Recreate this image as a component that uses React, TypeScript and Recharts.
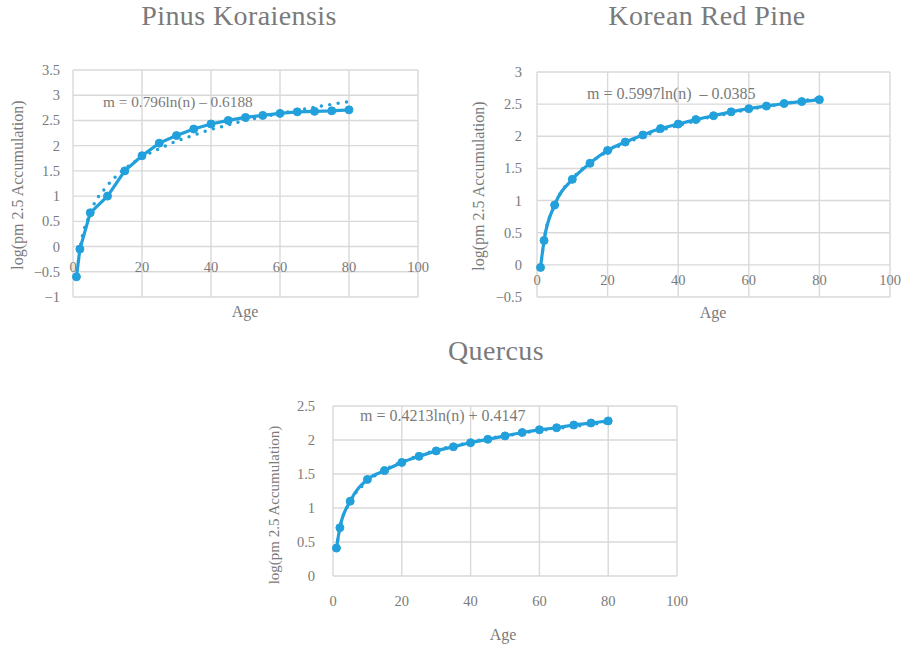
import React from 'react';
import { LineChart, Line, XAxis, YAxis, CartesianGrid } from 'recharts';

const ages = [1, 2, 5, 10, 15, 20, 25, 30, 35, 40, 45, 50, 55, 60, 65, 70, 75, 80];
const xTicks = [0, 20, 40, 60, 80, 100];

const pinusValues = [-0.6, -0.05, 0.67, 1.0, 1.5, 1.8, 2.05, 2.2, 2.33, 2.43, 2.5, 2.56, 2.6, 2.64, 2.67, 2.68, 2.69, 2.71];
const pinusTrend = [-0.62, -0.07, 0.66, 1.21, 1.54, 1.77, 1.94, 2.09, 2.21, 2.32, 2.41, 2.5, 2.57, 2.64, 2.7, 2.76, 2.82, 2.87];
const pinusTicks = [-1, -0.5, 0, 0.5, 1, 1.5, 2, 2.5, 3, 3.5];

const redPineValues = [-0.04, 0.38, 0.93, 1.33, 1.58, 1.78, 1.91, 2.02, 2.12, 2.19, 2.26, 2.32, 2.38, 2.43, 2.47, 2.51, 2.54, 2.57];
const redPineTrend = [-0.04, 0.38, 0.93, 1.34, 1.59, 1.76, 1.89, 2.0, 2.09, 2.17, 2.24, 2.31, 2.36, 2.42, 2.46, 2.51, 2.55, 2.59];
const redPineTicks = [-0.5, 0, 0.5, 1, 1.5, 2, 2.5, 3];

const quercusValues = [0.41, 0.71, 1.1, 1.42, 1.55, 1.67, 1.76, 1.84, 1.9, 1.96, 2.01, 2.06, 2.11, 2.15, 2.18, 2.22, 2.25, 2.28];
const quercusTrend = [0.41, 0.71, 1.09, 1.39, 1.56, 1.68, 1.77, 1.85, 1.91, 1.97, 2.02, 2.06, 2.1, 2.14, 2.17, 2.2, 2.23, 2.26];
const quercusTicks = [0, 0.5, 1, 1.5, 2, 2.5];

const titles = ['Pinus Koraiensis', 'Korean Red Pine', 'Quercus'];
const equations = ['m = 0.796ln(n) \u2013 0.6188', 'm = 0.5997ln(n)  \u2013 0.0385', 'm = 0.4213ln(n) + 0.4147'];
const yAxisTitle = 'log(pm 2.5 Accumulation)';
const xAxisTitle = 'Age';

const FONT = "'Liberation Serif', 'Times New Roman', serif";
const GRAY = '#7a7a7a';
const BLUE = '#22a0db';
const GRID = '#d9d9d9';

const fmt = (v: number) => (v < 0 ? '\u2212' + String(Math.abs(v)) : String(v));

type Cfg = {
  title: string;
  equation: string;
  values: number[];
  trend: number[];
  yTicks: number[];
  left: number;
  top: number;
  width: number;
  height: number;
  margin: { top: number; right: number; bottom: number; left: number };
  xShift: number;
  yShift: number;
  lineType: 'linear' | 'monotone';
  titleX: number;
  titleTop: number;
  eqX: number;
  eqY: number;
  eqSize: number;
  yLabelX: number;
  yLabelY: number;
  yLabelSize: number;
  ageX: number;
  ageY: number;
};

const panels: Cfg[] = [
  {
    title: titles[0], equation: equations[0], values: pinusValues, trend: pinusTrend, yTicks: pinusTicks,
    left: 0, top: 0, width: 440, height: 340,
    margin: { top: 70, right: 22, bottom: 23, left: 33 },
    xShift: -30, yShift: -13, lineType: 'linear',
    titleX: 239, titleTop: 2, eqX: 103, eqY: 102, eqSize: 15.3,
    yLabelX: 18, yLabelY: 185, yLabelSize: 16, ageX: 245, ageY: 312,
  },
  {
    title: titles[1], equation: equations[1], values: redPineValues, trend: redPineTrend, yTicks: redPineTicks,
    left: 460, top: 0, width: 443, height: 340,
    margin: { top: 72, right: 13, bottom: 23, left: 37 },
    xShift: -16.6, yShift: -15, lineType: 'monotone',
    titleX: 707, titleTop: 2, eqX: 587, eqY: 94, eqSize: 16,
    yLabelX: 479, yLabelY: 186, yLabelSize: 16, ageX: 713, ageY: 313,
  },
  {
    title: titles[2], equation: equations[2], values: quercusValues, trend: quercusTrend, yTicks: quercusTicks,
    left: 260, top: 380, width: 440, height: 265,
    margin: { top: 26, right: 23, bottom: 49, left: 33 },
    xShift: 25, yShift: -18, lineType: 'monotone',
    titleX: 496, titleTop: 337, eqX: 360, eqY: 416, eqSize: 16,
    yLabelX: 274, yLabelY: 505, yLabelSize: 15, ageX: 503, ageY: 635,
  },
];

const abs = (extra: React.CSSProperties): React.CSSProperties => ({
  position: 'absolute',
  whiteSpace: 'nowrap',
  lineHeight: 1,
  fontFamily: FONT,
  color: GRAY,
  ...extra,
});

const tickStyle: React.CSSProperties = { fontFamily: FONT, fontSize: 14.5 };

function Panel({ cfg }: { cfg: Cfg }) {
  const data = ages.map((a, i) => ({ age: a, value: cfg.values[i], trend: cfg.trend[i] }));
  const yMin = cfg.yTicks[0];
  const yMax = cfg.yTicks[cfg.yTicks.length - 1];
  const renderXTick = (p: any) => (
    <text x={p.x} y={p.y + cfg.xShift} textAnchor="middle" dominantBaseline="central"
      fill={GRAY} style={tickStyle}>
      {fmt(p.payload.value)}
    </text>
  );
  const renderYTick = (p: any) => (
    <text x={p.x + cfg.yShift} y={p.y} textAnchor="end" dominantBaseline="central"
      fill={GRAY} style={tickStyle}>
      {fmt(p.payload.value)}
    </text>
  );
  return (
    <>
      <div style={{ position: 'absolute', left: cfg.left, top: cfg.top }}>
        <LineChart width={cfg.width} height={cfg.height} data={data} margin={cfg.margin}>
          <CartesianGrid stroke={GRID} strokeWidth={1.4} />
          <XAxis dataKey="age" type="number" domain={[0, 100]} ticks={xTicks} interval={0}
            axisLine={false} tickLine={false} tickSize={0} tickMargin={0} height={20} tick={renderXTick} />
          <YAxis type="number" domain={[yMin, yMax]} ticks={cfg.yTicks} interval={0} allowDataOverflow
            axisLine={false} tickLine={false} tickSize={0} tickMargin={0} width={40} tick={renderYTick} />
          <Line type={cfg.lineType} dataKey="value" stroke={BLUE} strokeWidth={3.2}
            dot={{ r: 4, fill: BLUE, stroke: BLUE, strokeWidth: 1 }} activeDot={false} isAnimationActive={false} />
          <Line type="monotone" dataKey="trend" stroke={BLUE} strokeWidth={3.5} strokeDasharray="0 8.5"
            strokeLinecap="round" dot={false} activeDot={false} isAnimationActive={false} />
        </LineChart>
      </div>
      <div style={abs({ left: cfg.titleX, top: cfg.titleTop, fontSize: 28, letterSpacing: 0.4, transform: 'translateX(-50%)' })}>{cfg.title}</div>
      <div style={abs({ left: cfg.eqX, top: cfg.eqY, fontSize: cfg.eqSize, transform: 'translateY(-50%)', whiteSpace: 'pre' })}>{cfg.equation}</div>
      <div style={abs({ left: cfg.yLabelX, top: cfg.yLabelY, fontSize: cfg.yLabelSize, transform: 'translate(-50%,-50%) rotate(-90deg)' })}>{yAxisTitle}</div>
      <div style={abs({ left: cfg.ageX, top: cfg.ageY, fontSize: 16, transform: 'translate(-50%,-50%)' })}>{xAxisTitle}</div>
    </>
  );
}

export default function App() {
  return (
    <div style={{ position: 'absolute', left: 0, top: 0, width: 903, height: 645, background: '#fff', overflow: 'hidden' }}>
      {panels.map((cfg) => (
        <Panel key={cfg.title} cfg={cfg} />
      ))}
    </div>
  );
}
